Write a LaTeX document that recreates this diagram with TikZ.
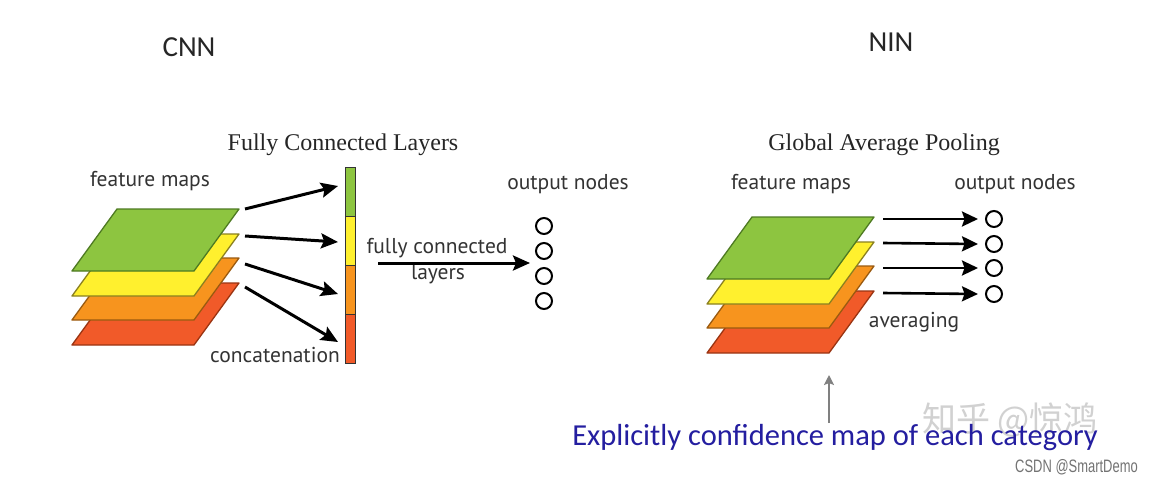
\documentclass[tikz,border=0pt]{standalone}
\usepackage{fontspec}
\setmainfont{Liberation Serif}
\newfontfamily\calfont{Carlito}
\newfontfamily\myrfont{PT Sans}
\newfontfamily\arfont[FakeStretch=0.72]{Liberation Sans}
\newfontfamily\cjk{Noto Sans CJK SC}
\usetikzlibrary{arrows.meta,calc}
\definecolor{gfill}{HTML}{8DC540}\definecolor{gline}{HTML}{4E7A22}
\definecolor{yfill}{HTML}{FFF02E}\definecolor{yline}{HTML}{8A8020}
\definecolor{ofill}{HTML}{F7941E}\definecolor{oline}{HTML}{9A5A10}
\definecolor{rfill}{HTML}{F15A29}\definecolor{rline}{HTML}{9A3412}
\definecolor{bluetxt}{RGB}{36,30,160}
\newcommand\fmap[4]{\draw[fmapstyle,fill=#3,draw=#4,shift={(#1,#2)}] (45,0) -- (167,0) -- (122,62) -- (0,62) -- cycle;}
\tikzset{
  fmapstyle/.style={line width=1.3pt, line join=round},
  lbl/.style={font=\myrfont\fontsize{21.5}{23}\selectfont, text=black!80, inner sep=0pt},
  title/.style={font=\fontsize{24}{26}\selectfont, text=black!85, inner sep=0pt},
  head/.style={font=\calfont\fontsize{29}{32}\selectfont, text=black!85, inner sep=0pt},
  bigarrow/.style={line width=3pt, -{Stealth[length=17pt,width=15pt,inset=3pt]}},
  midarrow/.style={line width=2.6pt, -{Stealth[length=16pt,width=15pt,inset=2.5pt]}},
  seg/.style={draw=black!80, line width=1pt, minimum width=10pt, minimum height=49pt, inner sep=0pt, outer sep=0pt},
  outnode/.style={circle, draw=black, line width=2pt, minimum size=16pt, inner sep=0pt},
}
\begin{document}
\begin{tikzpicture}[x=1pt,y=-1pt]
\useasboundingbox (0,0) rectangle (1152,485);
\fill[white] (0,0) rectangle (1152,485);

% headings
\node[head] (cnn) at (189,47) {CNN};
\node[head] (nin) at (891,42) {NIN};
\node[title] (fcl) at (343,145) {Fully Connected Layers};
\node[title] (gap) at (884,145) {Global Average Pooling};

% ---------- CNN side ----------
\node[lbl] (fmL) at (150,181) {feature maps};
\fmap{72}{283}{rfill}{rline}
\fmap{72}{258}{ofill}{oline}
\fmap{72}{234}{yfill}{yline}
\fmap{72}{209}{gfill}{gline}

\node[seg, fill=gfill] (s1) at (350,191.5) {};
\node[seg, fill=yfill] (s2) at (350,240.5) {};
\node[seg, fill=ofill] (s3) at (350,289.5) {};
\node[seg, fill=rfill] (s4) at (350,338.5) {};

\coordinate (a1) at (245,209); \coordinate (b1) at (338,186);
\coordinate (a2) at (245,236); \coordinate (b2) at (338,242);
\coordinate (a3) at (245,264); \coordinate (b3) at (338,294);
\coordinate (a4) at (245,287); \coordinate (b4) at (338,342);
\draw[bigarrow] (a1) -- (b1);
\draw[bigarrow] (a2) -- (b2);
\draw[bigarrow] (a3) -- (b3);
\draw[bigarrow] (a4) -- (b4);

\node[lbl, anchor=east] (concat) at (340,355) {concatenation};

\node[lbl] (fc1) at (437,248) {fully connected};
\node[lbl] (fc2) at (438,274) {layers};

\node[outnode] (o1) at (544,226) {};
\node[outnode] (o2) at (544,251) {};
\node[outnode] (o3) at (544,276) {};
\node[outnode] (o4) at (544,301) {};
\coordinate (fcs) at (378,263);
\draw[bigarrow] (fcs) -- (530,263) coordinate (fce);
\node[lbl] (outL) at (568,184) {output nodes};

% ---------- NIN side ----------
\node[lbl] (fmR) at (791,184) {feature maps};
\fmap{707}{291}{rfill}{rline}
\fmap{707}{266}{ofill}{oline}
\fmap{707}{242}{yfill}{yline}
\fmap{707}{217}{gfill}{gline}

\node[outnode] (p1) at (994,219) {};
\node[outnode] (p2) at (994,244) {};
\node[outnode] (p3) at (994,268) {};
\node[outnode] (p4) at (994,294) {};
\coordinate (c1) at (883,219);
\coordinate (c2) at (883,243);
\coordinate (c3) at (883,268);
\coordinate (c4) at (883,293);
\draw[midarrow] (c1) -- ($(p1.west)+(-7,0)$);
\draw[midarrow] (c2) -- ($(p2.west)+(-7,0)$);
\draw[midarrow] (c3) -- ($(p3.west)+(-7,0)$);
\draw[midarrow] (c4) -- ($(p4.west)+(-7,0)$);
\node[lbl] (outR) at (1015,184) {output nodes};
\node[lbl] (avg) at (914,322) {averaging};

% bottom annotation
\node[font=\cjk\fontsize{34}{36}\selectfont, text=black!18, inner sep=0pt] (wm) at (1010,420) {知乎 @惊鸿};
\node[font=\calfont\fontsize{30.5}{32}\selectfont, text=bluetxt, inner sep=0pt] (expl) at (835,438) {Explicitly confidence map of each category};
\coordinate (gs) at (829,423);
\coordinate (ge) at (829,375);
\draw[line width=2.5pt, black!50, -{Stealth[length=10pt,width=10pt,inset=2pt]}] (gs) -- (ge);
\node[font=\arfont\fontsize{18}{20}\selectfont, text=black!55, inner sep=0pt, anchor=east] (csdn) at (1138,467) {CSDN @SmartDemo};
\end{tikzpicture}
\end{document}
